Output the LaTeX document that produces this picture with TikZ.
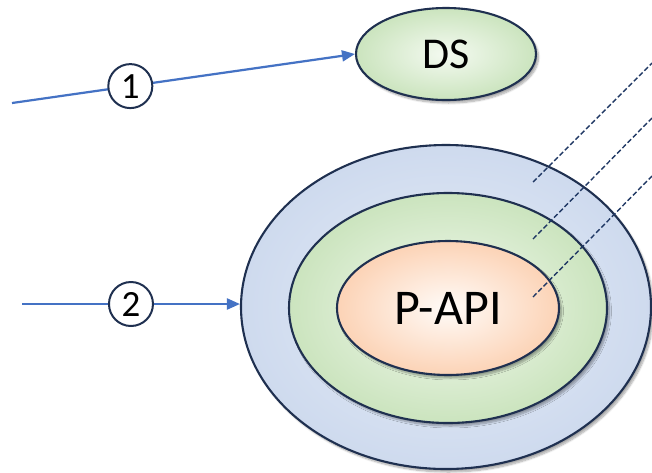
\documentclass[tikz,border=0pt]{standalone}
\usepackage{fontspec}
\setmainfont{Carlito}
\usetikzlibrary{shapes.geometric,arrows.meta,shadows.blur}
\definecolor{navy}{HTML}{1F3050}
\definecolor{arrowblue}{HTML}{4472C4}
\definecolor{dashnavy}{HTML}{203864}
\definecolor{blueIn}{RGB}{230,237,247}
\definecolor{blueOut}{RGB}{206,218,238}
\definecolor{greenIn}{RGB}{244,250,241}
\definecolor{greenOut}{RGB}{203,228,190}
\definecolor{orangeIn}{RGB}{255,251,248}
\definecolor{orangeOut}{RGB}{252,211,182}
\tikzset{
  ring/.style={ellipse, draw=navy, line width=2.1pt, inner sep=0pt,
    blur shadow={shadow xshift=2.5pt, shadow yshift=-3pt, shadow blur steps=8, shadow opacity=35}},
  bluering/.style={ring, inner color=blueIn, outer color=blueOut},
  greenring/.style={ring, inner color=greenIn, outer color=greenOut},
  orangering/.style={ring, inner color=orangeIn, outer color=orangeOut},
  numcircle/.style={circle, draw=navy, line width=2pt, fill=white, minimum size=44pt, inner sep=0pt, font=\fontsize{37}{37}\selectfont},
  flow/.style={draw=arrowblue, line width=2.2pt, -{Triangle[length=13pt,width=11pt]}},
  leader/.style={draw=dashnavy, line width=1.4pt, dash pattern=on 5pt off 2.5pt}
}
\begin{document}
\begin{tikzpicture}[x=1pt,y=-1pt]
\useasboundingbox (0,0) rectangle (652,472);
% nodes
\node[greenring, minimum width=180pt, minimum height=92pt, font=\fontsize{44}{44}\selectfont] (DS) at (446,54) {DS};
\node[bluering, minimum width=410pt, minimum height=324pt] (outer) at (446,307) {};
\node[greenring, minimum width=318pt, minimum height=230pt] (middle) at (448,308) {};
\node[orangering, minimum width=222pt, minimum height=134pt, font=\fontsize{50}{50}\selectfont] (inner) at (448,308) {P-API};
% flow arrows
\coordinate (s1) at (12,103);
\coordinate (s2) at (22,304);
\draw[flow] (s1) -- node[numcircle, pos=0.345] (n1) {1} (DS.west);
\draw[flow] (s2) -- node[numcircle, pos=0.5] (n2) {2} (s2 -| outer.west);
% dashed leaders
\coordinate (a1) at (533,182);
\coordinate (b1) at (652,63);
\coordinate (a2) at (533,239);
\coordinate (b2) at (652,118);
\coordinate (a3) at (533,297);
\coordinate (b3) at (652,176);
\draw[leader] (a1) -- (b1);
\draw[leader] (a2) -- (b2);
\draw[leader] (a3) -- (b3);
\end{tikzpicture}
\end{document}
